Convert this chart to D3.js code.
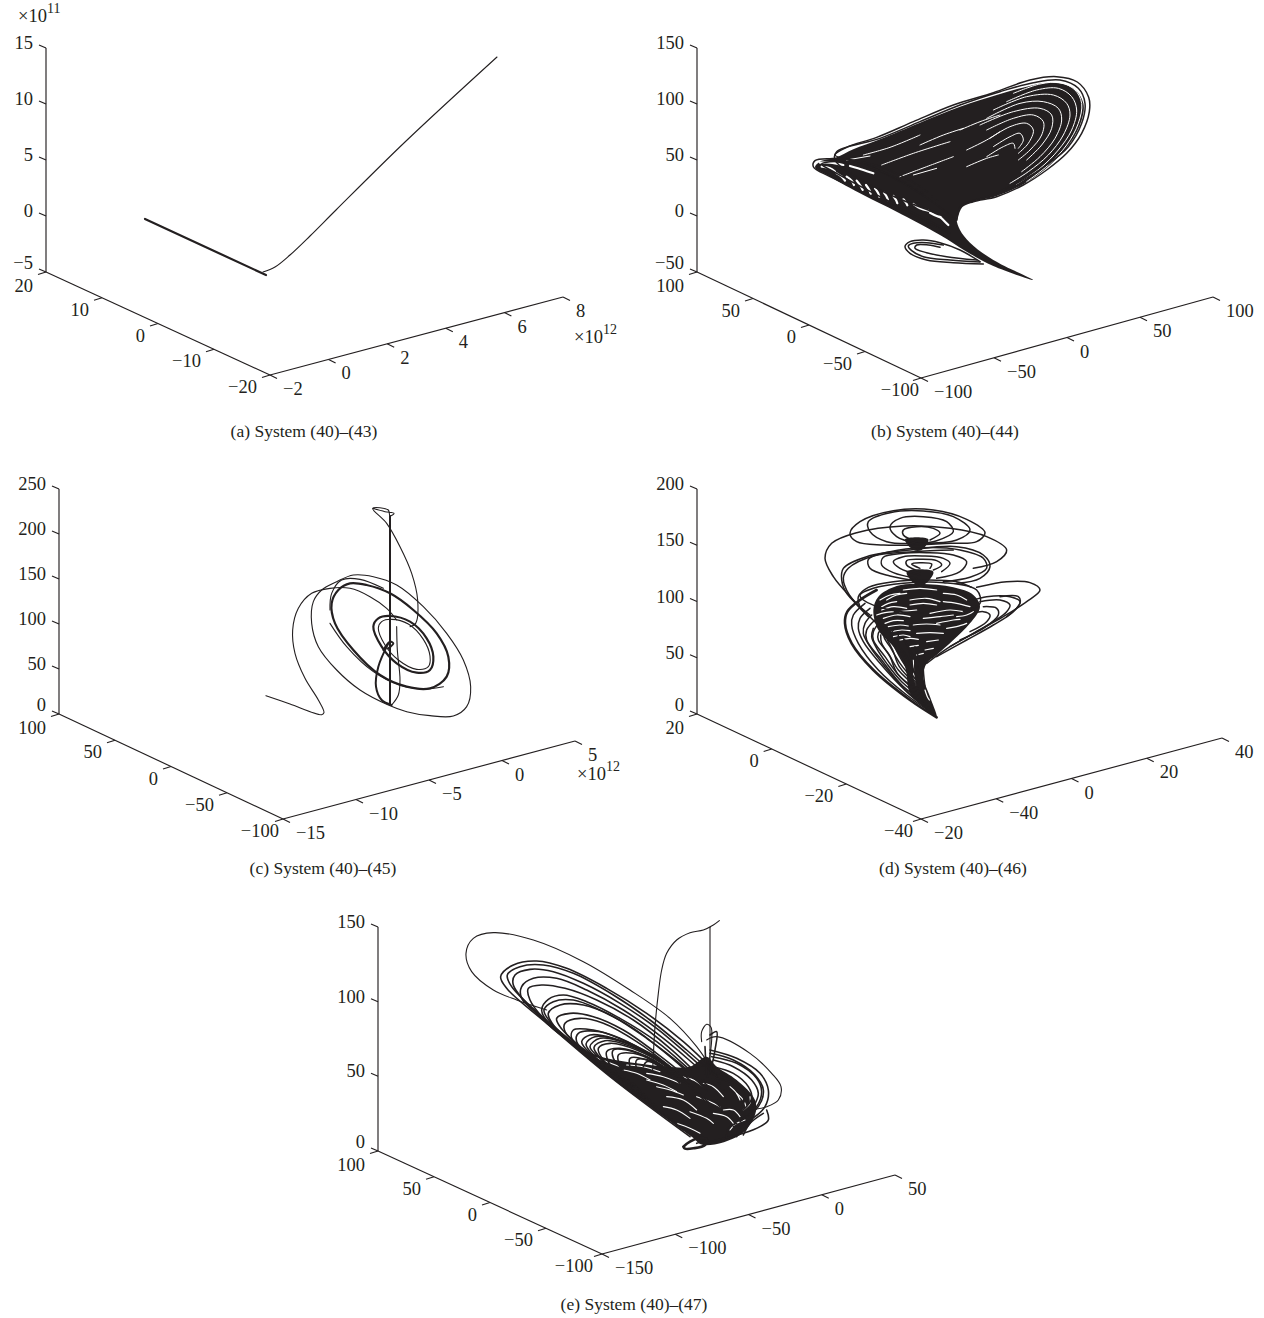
<!DOCTYPE html>
<html><head><meta charset="utf-8">
<script src="https://cdnjs.cloudflare.com/ajax/libs/d3/7.8.5/d3.min.js"></script>
<style>html,body{margin:0;background:#fff}svg{display:block}text{font-family:"Liberation Serif",serif;fill:#231f20}</style>
</head><body><svg id="c" width="1264" height="1318"></svg>
<script>
// ---- tick labels ----
const zA=["15","10","5","0","−5"], yA=["20","10","0","−10","−20"], xA=["−2","0","2","4","6","8"];
const zB=["150","100","50","0","−50"], yB=["100","50","0","−50","−100"], xB=["−100","−50","0","50","100"];
const zC=["250","200","150","100","50","0"], yC=["100","50","0","−50","−100"], xC=["−15","−10","−5","0","5"];
const zD=["200","150","100","50","0"], yD=["20","0","−20","−40"], xD=["−20","−40","0","20","40"];
const zE=["150","100","50","0"], yE=["100","50","0","−50","−100"], xE=["−150","−100","−50","0","50"];
const captions=["(a)  System (40)–(43)","(b)  System (40)–(44)","(c)  System (40)–(45)","(d)  System (40)–(46)","(e)  System (40)–(47)"];

// ---- trajectories, projected to the page plane, in view units ----
const thickA=[[435,657,798,825]];
const thinA=[[789,816,825,801,870,765,930,708,1008,630,1215,426,1491,171]];

const inkB=[120,305,170,292,220,268,300,238,420,188,540,140,650,105,740,80,820,68,880,85,910,130,905,180,870,250,810,315,735,370,650,408,580,425,545,440,530,475,540,510,570,548,640,600,760,660,640,618,560,575,480,525,350,455,250,405,150,350,105,322];
const gapsB=[
[700,100,780,72,840,68,885,90,905,130,895,190,860,255,805,315,740,365],
[680,125,770,90,835,85,875,110,890,150,875,210,835,270,780,325,710,372],
[640,150,740,110,820,105,860,130,870,165,850,225,805,285,745,335,690,370],
[620,175,720,130,790,125,835,145,845,180,825,235,780,290,725,335],
[600,195,700,155,780,145,815,165,815,205,785,255,740,300],
[620,210,700,175,760,165,790,185,785,225,750,270,715,300],
[630,235,690,200,740,190,760,210,745,250,715,280],
[640,260,690,230,720,220,730,240,715,265],
[620,290,670,260,700,250,705,265],
[560,320,620,295,655,285],[305,315,400,280,510,245],[540,210,600,185,660,165],[360,350,440,320,520,290],
[420,255,490,225,550,205],[250,285,330,262,420,225],[200,300,270,288],[400,345,470,325],[560,270,620,240,660,215]];
const specksB=[
[125,320,150,325,165,335],[170,340,185,350,195,362],[200,350,215,362,222,375],[230,362,242,378,248,390],
[258,375,268,390,272,402],[285,385,294,398,298,410],[312,398,320,410,324,420],[340,408,348,420,352,430],
[370,418,378,428,382,436],[400,432,420,445,445,452],[450,458,470,468,482,472],[480,470,495,485,505,495],
[120,308,150,308,190,315],[210,318,250,330,280,340]];
const loopsB=[
[530,480,420,400,250,310,165,285,200,262,290,232,400,185,520,135,640,98,750,60,830,50,892,66,926,112,928,155,905,220,860,280,800,330,730,375,650,410,580,425,545,440,530,480],
[530,480,300,390,165,300,170,275,300,235,420,185,540,135,660,95,760,68,840,60,895,85,915,130,905,190,865,260,800,315,720,365,620,410,545,435,530,480],
[510,520,300,420,150,350,100,320,105,302,150,296,210,300,300,320,420,380,510,460],
[500,510,320,420,170,340,125,312,150,305,220,310,320,340,430,400],
[610,612,520,608,440,600,390,580,375,560,390,545,430,540,480,548,540,570,600,605],
[600,606,510,600,430,590,395,572,385,558,400,550,440,548,490,555],
[590,600,500,590,440,578,405,565,410,555,445,555,480,562]];

const thinC=[
[48,617,120,642,215,674,222,668,205,630,165,565,135,490,128,420,145,355,185,310,240,295,300,295,360,320,410,355,440,390],
[240,360,245,310,275,270,330,268,400,295],
[368,55,405,65,432,70,420,78,415,60,368,55,410,100,450,170,485,250,503,330,497,400,480,410],
[440,410,442,480,450,570,445,615,425,645],
[240,400,290,470,370,545,450,585,520,597,580,590]];
const ringsThinC=[
[415,645,470,665,540,677,610,678,650,650,662,590,640,510,590,430,520,350,440,285,370,260,310,255,260,275,215,300,190,335,185,400,205,470,260,540,330,600],
[395,395,385,415,405,465,445,510,500,538,535,530,540,498,520,448,475,402,425,388]];
const ringsThickC=[
[300,280,265,300,245,340,255,400,310,480,390,555,470,590,540,595,590,560,595,500,560,430,490,360,420,310,350,285],
[385,385,370,410,395,470,440,520,500,548,540,540,550,500,530,445,480,395,420,378]];
const thickC=[
[415,460,385,530,378,590,395,630,425,645],
[400,480,420,455,430,460,415,475],
[420,78,420,645]];

const inkD=[205,290,260,258,330,252,430,262,490,285,510,320,480,370,430,420,380,465,350,490,340,530,360,590,380,652,340,620,300,580,285,500,250,440,205,390,190,330];
const funnelsD=[[285,118,355,118,335,150,310,150],[290,215,370,215,345,252,315,252]];
const gapsD=[[430,425,470,415,490,405],[470,400,500,385,515,375],[215,330,250,320,290,325],[220,355,260,345,300,350],[235,380,270,375,295,378],[300,300,350,295,390,305],[360,340,420,330,460,335],[380,370,430,360,450,358],[230,300,260,285,290,280],[250,410,280,405,300,410],[345,570,352,590,358,600],[310,480,312,530,318,555],
[210,300,240,285,270,280],[280,270,330,265,380,270],[400,280,440,285,470,300],[215,320,235,310,260,305],[300,315,340,310,380,315],[400,305,440,310,480,320],[200,345,225,338,250,335],[270,335,320,330],[340,355,390,350,430,345],[440,350,470,345,490,335],[225,370,250,362,280,362],[310,375,350,372,390,375],[410,385,440,380,470,370],[245,395,275,390,300,392],[320,400,360,398,400,400],[270,420,300,415,325,418],[350,425,385,420],[300,440,325,436],[345,450,370,445],[320,465,340,460]];
const loopsD=[
[320,135,220,135,140,125,120,100,150,65,250,32,370,30,470,58,525,98,500,125,420,130,320,135],
[320,130,230,125,180,95,175,65,240,38,340,33,430,50,480,90,440,120,320,130],
[320,130,260,110,240,80,270,55,340,50,410,65,430,95,380,122,320,130],
[320,125,280,105,280,90,320,80,370,85,390,100,360,120],
[210,380,130,300,70,230,45,175,65,130,140,98,280,78,420,85,530,110,590,150,560,185,490,205],
[180,345,110,280,95,240,100,205,170,170,300,150,440,140,520,165,540,200,510,235,440,250],
[175,350,118,285,100,235,115,205,190,168,310,155,430,150],
[340,245,240,228,180,205,175,178,240,155,340,143,450,150,520,175,530,205,480,232,400,245],
[320,235,250,218,215,195,220,172,280,160,350,158,430,165,470,185,450,215,380,235],
[330,225,270,205,250,185,280,170,340,168,400,175,420,190,395,215],
[330,215,290,195,290,182,330,178,380,182,395,195,370,210],
[330,205,305,192,330,188,365,192,360,205],
[340,340,240,330,160,300,150,285,190,265,280,250,400,248,500,270,510,310,460,335],
[150,320,145,290,175,262,250,245,350,240,440,245,485,262],
[375,645,290,585,205,510,145,430,125,375,130,345,165,310],
[350,610,280,560,215,480,170,420,170,390,195,360],
[340,590,270,530,225,470,190,420,190,395,210,365],
[330,570,265,510,235,460,205,420,205,400,220,380],
[320,550,270,490,240,440,222,410,230,390],
[320,530,280,470,255,440,240,410,250,390],
[315,520,290,470,265,430,265,405],[310,510,300,460,285,420],
[370,640,300,585,225,500,180,440,160,400,165,370,185,345],
[360,625,285,570,210,490,160,425,145,385,150,355,180,325],
[345,600,275,545,230,490,200,445,185,410,190,385],
[335,580,262,520,240,470,215,430,212,405],
[325,560,268,500,248,450,232,420],
[318,540,275,480,250,430,245,400],
[322,500,300,450,280,415],[330,520,325,470,315,440],[345,560,340,500,345,470],
[350,490,420,440,500,395,580,350,650,305,690,270,660,248,590,245,500,262],
[380,470,470,420,550,375,610,335,630,305,600,290,530,290,490,300],
[420,440,490,400,550,365,590,335,600,315,570,300,510,305],
[450,420,520,385,565,345,560,325,520,320],
[480,395,530,365,540,345,520,335,490,340],
[590,350,630,310,625,290,570,290]];
const heavyD=[[380,652,300,600,190,510,125,430,105,370,112,335,150,300,200,270]];

const inkE=[400,425,470,445,560,460,650,470,720,470,770,440,800,470,860,510,915,570,915,615,870,675,760,705,725,680,600,590,480,500];
const gapsE=[[650,560,700,570,740,600],[840,660,860,640,885,630],[790,610,830,620,850,640],[680,640,720,655,750,670],[720,605,770,625,790,640],[880,600,900,580,900,560],[860,550,880,570,888,590],[840,530,860,550,870,570],[590,510,640,525,680,545],[620,530,660,540,700,555],
[530,465,580,470,630,485],[590,490,640,500,690,520],[520,480,560,490,600,510],[690,500,730,510,760,530],[640,590,680,600,720,625],[820,600,850,600,870,620],[740,560,780,575,810,590],[760,520,790,530,820,560],[430,440,470,455,510,470]];
const loopsE=[
[720,680,480,500,290,340,170,235,152,200,190,165,260,153,350,175,470,235,590,310,700,395,790,480],
[700,660,460,470,300,340,185,230,172,195,210,170,280,165,370,190,490,255,600,330,710,420,800,500],
[680,640,430,450,280,330,190,225,195,195,240,178,310,185,400,220,510,280,620,355,720,440,810,520],
[660,630,400,430,280,325,215,265,215,230,250,205,320,205,410,240,520,300,640,385,740,470,820,540],
[650,615,410,435,290,335,240,270,235,235,275,225,345,235,440,270,550,330,660,415,760,510],
[640,610,420,440,300,345,275,300,295,268,340,255,410,275,510,325,620,395,720,480,810,560],
[620,590,400,430,310,345,295,310,330,285,400,285,490,320,590,385,700,470,800,570],
[610,580,395,420,300,335,282,300,310,275,370,270,450,300,550,355,660,440,770,540],
[600,570,390,410,330,350,320,325,360,310,430,320,520,360,620,430,720,510,810,590],
[590,560,400,420,345,365,345,340,390,325,460,340,560,395,660,470,760,560],
[580,550,410,425,365,385,370,360,430,360,510,385,610,440,700,510,790,590],
[570,540,430,445,380,395,385,370,450,365,540,400,640,455,730,530],
[560,530,425,435,395,395,420,375,490,385,590,430,690,500,780,590],
[555,525,440,445,408,402,435,380,510,392,610,440,700,510],
[540,520,450,445,420,410,450,385,530,400,630,450,720,530],
[530,510,455,448,432,412,465,392,545,410,640,460,730,540],
[520,505,460,450,445,415,480,400,560,420,650,470,740,550],
[500,490,475,455,470,425,510,415,590,440,680,500],
[520,480,490,445,490,420,530,420,610,450,700,515],
[510,470,505,435,550,430,620,460,690,520],
[540,470,540,445,590,450,660,490],
[560,480,560,450,610,455,680,500],
[580,470,590,455,640,470,700,510],
[780,420,860,445,930,490,955,540,945,590,900,630,850,650],
[785,440,860,460,920,505,935,545,920,590,870,635],
[780,430,850,450,915,495,940,540,925,590,880,625],
[790,450,850,470,905,510,925,550,910,590],
[790,470,850,490,895,530,905,565,880,600],
[800,490,850,510,880,545,880,580],
[800,505,860,525,885,560,870,600],
[950,600,955,630,930,650,880,670,780,695],
[940,610,900,640,880,675],[900,630,870,650,860,680],[860,640,835,655,830,685],
[740,700,755,695,760,690],
[780,375,800,365,795,420,780,490],[765,410,770,490,772,500]];
const heavyE=[[700,710,720,695,745,685,770,688,765,705,730,715,705,716,700,710]];
const thinE=[
[800,500,740,410,660,325,540,240,400,155,250,90,130,68,70,85,48,130,65,185,130,240,200,270,290,300],
[770,390,800,380,900,430,965,490,993,530,985,570,950,590,900,600],
[755,395,755,365,770,343,783,352,785,390,775,470],
[808,32,790,45,760,60,720,68,680,90,650,130,635,180,625,250,615,350,608,480],
[780,52,780,490]];

// ---- rendering ----
const svg=d3.select("#c"), ink="#231f20";
const chunk=a=>d3.range(0,a.length,2).map(i=>[a[i],a[i+1]]);
function panel(g){
  const z=d3.scalePoint().domain(g.z).range([g.top,g.o[1]]);
  const yS=d3.scalePoint().domain(g.y).range([0,1]), xS=d3.scalePoint().domain(g.x).range([0,1]);
  const yP=d3.interpolate(g.o,g.c), xP=d3.interpolate(g.c,g.e);
  const G=svg.append("g").attr("fill","none").attr("stroke",ink);
  const seg=(a,b)=>G.append("line").attr("x1",a[0]).attr("y1",a[1]).attr("x2",b[0]).attr("y2",b[1]).attr("stroke-width",1.15);
  seg([g.o[0],g.top],g.o); seg(g.o,g.c); seg(g.c,g.e);
  const T=svg.append("g").attr("font-size",18.5);
  g.z.forEach((t,i)=>{const p=[g.o[0],z(t)];seg([p[0]-7,p[1]-3],p);
    T.append("text").attr("x",p[0]-13).attr("y",p[1]+(i===g.z.length-1?-3:1)).attr("text-anchor","end").text(t);});
  g.y.forEach((t,i)=>{const p=yP(yS(t));seg([p[0]-8,p[1]+2.5],p);
    const dx=i===g.y.length-1?g.cornerDx:0;
    T.append("text").attr("x",p[0]-13+dx).attr("y",p[1]+(i===0?20:18)).attr("text-anchor","end").text(t);});
  g.x.forEach(t=>{const p=xP(xS(t));seg([p[0]+7,p[1]+3.5],p);
    T.append("text").attr("x",p[0]+13).attr("y",p[1]+20).text(t);});
  T.append("text").attr("x",g.cap[0]).attr("y",g.cap[1]).attr("text-anchor","middle").attr("font-size",17.5).text(g.label);
  (g.exp||[]).forEach(e=>{const t=T.append("text").attr("x",e[0]).attr("y",e[1]).text("×10");
    t.append("tspan").attr("dy",-9).attr("font-size",14).text(e[2]);});
  const vx=d3.scaleLinear().domain([0,g.v[2]]).range([g.v[0],g.v[0]+g.v[2]/3]);
  const vy=d3.scaleLinear().domain([0,g.v[3]]).range([g.v[1],g.v[1]+g.v[3]/3]);
  const line=d3.line().x(d=>vx(d[0])).y(d=>vy(d[1])).curve(d3.curveCatmullRom.alpha(.5));
  const closed=d3.line().x(d=>vx(d[0])).y(d=>vy(d[1])).curve(d3.curveCatmullRomClosed.alpha(.5));
  const P=svg.append("g").attr("fill","none").attr("stroke-linejoin","round").attr("stroke-linecap","round");
  (g.fills||[]).forEach(a=>P.append("path").attr("d",closed(chunk(a))).attr("fill",ink));
  (g.gaps||[]).forEach(s=>s[0].forEach(a=>P.append("path").attr("d",line(chunk(a))).attr("stroke","#fff").attr("stroke-width",s[1])));
  (g.rings||[]).forEach(s=>s[0].forEach(a=>P.append("path").attr("d",closed(chunk(a))).attr("stroke",ink).attr("stroke-width",s[1])));
  (g.strokes||[]).forEach(s=>s[0].forEach(a=>P.append("path").attr("d",line(chunk(a))).attr("stroke",ink).attr("stroke-width",s[1])));
}
panel({z:zA,y:yA,x:xA,top:48,o:[46,272],c:[270,375],e:[563,297],cap:[304,437],label:captions[0],cornerDx:0,
  exp:[[18,22,"11"],[574,343,"12"]],v:[0,0,1896,1350],strokes:[[thinA,1.1],[thickA,2.2]]});
panel({z:zB,y:yB,x:xB,top:48,o:[697,272],c:[921,378],e:[1213,297],cap:[945,437],label:captions[1],cornerDx:11,
  v:[780,60,1020,720],fills:[inkB],gaps:[[gapsB,1],[specksB,2.2]],strokes:[[loopsB,1.5]]});
panel({z:zC,y:yC,x:xC,top:489,o:[59,714],c:[283,819],e:[575,741],cap:[323,874],label:captions[2],cornerDx:9,
  exp:[[577,780,"12"]],v:[250,490,720,720],rings:[[ringsThinC,1.1],[ringsThickC,2.2]],strokes:[[thinC,1.1],[thickC,2]]});
panel({z:zD,y:yD,x:xD,top:489,o:[697,714],c:[921,819],e:[1222,738],cap:[953,874],label:captions[3],cornerDx:5,
  v:[810,500,720,690],fills:[inkD,...funnelsD],gaps:[[gapsD,1.2]],strokes:[[loopsD,1.5],[heavyD,2.6]]});
panel({z:zE,y:yE,x:xE,top:927,o:[378,1151],c:[602,1254],e:[895,1175],cap:[634,1310],label:captions[4],cornerDx:4,
  v:[450,910,1020,750],fills:[inkE],gaps:[[gapsE,1.1]],strokes:[[thinE,1.1],[loopsE,1.6],[heavyE,2.6]]});
</script></body></html>
